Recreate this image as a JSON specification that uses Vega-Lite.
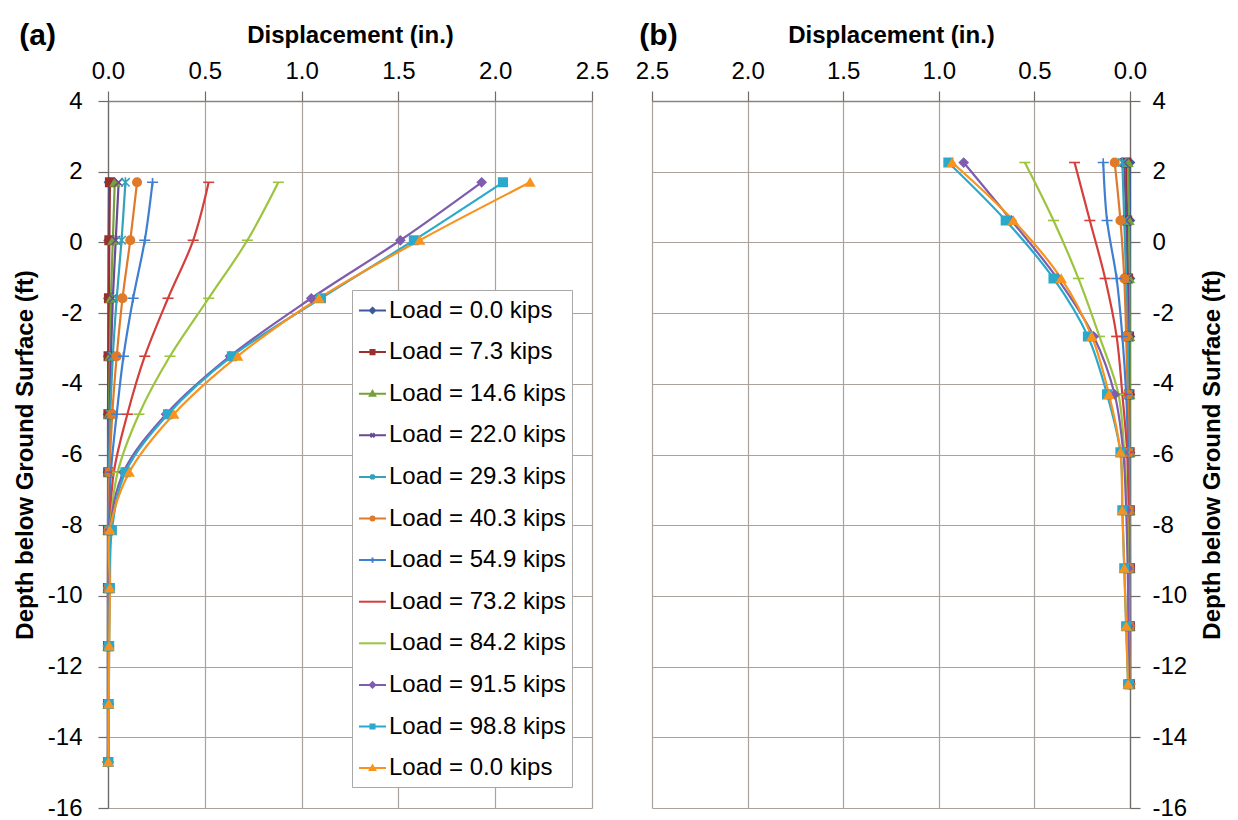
{
  "$schema": "https://vega.github.io/schema/vega-lite/v6.json",
  "background": "white",
  "padding": {"left": 13, "top": 21, "right": 5, "bottom": 5},
  "config": {
    "font": "Liberation Sans",
    "view": {"stroke": null},
    "axis": {
      "labelFont": "Liberation Sans", "titleFont": "Liberation Sans",
      "labelColor": "black", "titleColor": "black",
      "labelFontSize": 24, "titleFontSize": 24, "titleFontWeight": "bold",
      "gridColor": "#aaa29d", "gridWidth": 1.2,
      "tickColor": "#6d6a68", "domainColor": "#6d6a68", "tickSize": 10, "tickWidth": 1.2, "domainWidth": 1.3,
      "labelFlush": false, "labelOverlap": false
    },
    "title": {"font": "Liberation Sans", "fontSize": 30, "fontWeight": "bold", "color": "black"}
  },
  "datasets": {
    "a": [
      {"series":1,"depth":1.7,"disp":0.005},{"series":1,"depth":0.06,"disp":0.003},{"series":1,"depth":-1.58,"disp":0.002},{"series":1,"depth":-3.22,"disp":0.001},{"series":1,"depth":-4.86,"disp":0},{"series":1,"depth":-6.5,"disp":0},{"series":1,"depth":-8.14,"disp":0},{"series":1,"depth":-9.78,"disp":0},{"series":1,"depth":-11.42,"disp":0},{"series":1,"depth":-13.06,"disp":0},{"series":1,"depth":-14.7,"disp":0},
      {"series":2,"depth":1.7,"disp":0.01},{"series":2,"depth":0.06,"disp":0.007},{"series":2,"depth":-1.58,"disp":0.005},{"series":2,"depth":-3.22,"disp":0.003},{"series":2,"depth":-4.86,"disp":0.002},{"series":2,"depth":-6.5,"disp":0.001},{"series":2,"depth":-8.14,"disp":0},{"series":2,"depth":-9.78,"disp":0},{"series":2,"depth":-11.42,"disp":0},{"series":2,"depth":-13.06,"disp":0},{"series":2,"depth":-14.7,"disp":0},
      {"series":3,"depth":1.7,"disp":0.035},{"series":3,"depth":0.06,"disp":0.025},{"series":3,"depth":-1.58,"disp":0.015},{"series":3,"depth":-3.22,"disp":0.01},{"series":3,"depth":-4.86,"disp":0.005},{"series":3,"depth":-6.5,"disp":0.002},{"series":3,"depth":-8.14,"disp":0},{"series":3,"depth":-9.78,"disp":0},{"series":3,"depth":-11.42,"disp":0},{"series":3,"depth":-13.06,"disp":0},{"series":3,"depth":-14.7,"disp":0},
      {"series":4,"depth":1.7,"disp":0.055},{"series":4,"depth":0.06,"disp":0.04},{"series":4,"depth":-1.58,"disp":0.025},{"series":4,"depth":-3.22,"disp":0.015},{"series":4,"depth":-4.86,"disp":0.008},{"series":4,"depth":-6.5,"disp":0.003},{"series":4,"depth":-8.14,"disp":0.001},{"series":4,"depth":-9.78,"disp":0},{"series":4,"depth":-11.42,"disp":0},{"series":4,"depth":-13.06,"disp":0},{"series":4,"depth":-14.7,"disp":0},
      {"series":5,"depth":1.7,"disp":0.09},{"series":5,"depth":0.06,"disp":0.07},{"series":5,"depth":-1.58,"disp":0.045},{"series":5,"depth":-3.22,"disp":0.025},{"series":5,"depth":-4.86,"disp":0.012},{"series":5,"depth":-6.5,"disp":0.005},{"series":5,"depth":-8.14,"disp":0.002},{"series":5,"depth":-9.78,"disp":0.001},{"series":5,"depth":-11.42,"disp":0},{"series":5,"depth":-13.06,"disp":0},{"series":5,"depth":-14.7,"disp":0},
      {"series":6,"depth":1.7,"disp":0.15},{"series":6,"depth":0.06,"disp":0.115},{"series":6,"depth":-1.58,"disp":0.075},{"series":6,"depth":-3.22,"disp":0.045},{"series":6,"depth":-4.86,"disp":0.022},{"series":6,"depth":-6.5,"disp":0.008},{"series":6,"depth":-8.14,"disp":0.003},{"series":6,"depth":-9.78,"disp":0.002},{"series":6,"depth":-11.42,"disp":0.001},{"series":6,"depth":-13.06,"disp":0.001},{"series":6,"depth":-14.7,"disp":0},
      {"series":7,"depth":1.7,"disp":0.23},{"series":7,"depth":0.06,"disp":0.19},{"series":7,"depth":-1.58,"disp":0.13},{"series":7,"depth":-3.22,"disp":0.08},{"series":7,"depth":-4.86,"disp":0.045},{"series":7,"depth":-6.5,"disp":0.015},{"series":7,"depth":-8.14,"disp":0.005},{"series":7,"depth":-9.78,"disp":0.003},{"series":7,"depth":-11.42,"disp":0.002},{"series":7,"depth":-13.06,"disp":0.001},{"series":7,"depth":-14.7,"disp":0},
      {"series":8,"depth":1.7,"disp":0.52},{"series":8,"depth":0.06,"disp":0.44},{"series":8,"depth":-1.58,"disp":0.31},{"series":8,"depth":-3.22,"disp":0.19},{"series":8,"depth":-4.86,"disp":0.1},{"series":8,"depth":-6.5,"disp":0.03},{"series":8,"depth":-8.14,"disp":0.008},{"series":8,"depth":-9.78,"disp":0.004},{"series":8,"depth":-11.42,"disp":0.003},{"series":8,"depth":-13.06,"disp":0.002},{"series":8,"depth":-14.7,"disp":0},
      {"series":9,"depth":1.7,"disp":0.88},{"series":9,"depth":0.06,"disp":0.72},{"series":9,"depth":-1.58,"disp":0.52},{"series":9,"depth":-3.22,"disp":0.32},{"series":9,"depth":-4.86,"disp":0.16},{"series":9,"depth":-6.5,"disp":0.05},{"series":9,"depth":-8.14,"disp":0.01},{"series":9,"depth":-9.78,"disp":0.005},{"series":9,"depth":-11.42,"disp":0.003},{"series":9,"depth":-13.06,"disp":0.002},{"series":9,"depth":-14.7,"disp":0},
      {"series":10,"depth":1.7,"disp":1.93},{"series":10,"depth":0.06,"disp":1.51},{"series":10,"depth":-1.58,"disp":1.05},{"series":10,"depth":-3.22,"disp":0.63},{"series":10,"depth":-4.86,"disp":0.3},{"series":10,"depth":-6.5,"disp":0.08},{"series":10,"depth":-8.14,"disp":0.01},{"series":10,"depth":-9.78,"disp":0.006},{"series":10,"depth":-11.42,"disp":0.004},{"series":10,"depth":-13.06,"disp":0.003},{"series":10,"depth":-14.7,"disp":0},
      {"series":11,"depth":1.7,"disp":2.04},{"series":11,"depth":0.06,"disp":1.58},{"series":11,"depth":-1.58,"disp":1.1},{"series":11,"depth":-3.22,"disp":0.64},{"series":11,"depth":-4.86,"disp":0.31},{"series":11,"depth":-6.5,"disp":0.09},{"series":11,"depth":-8.14,"disp":0.02},{"series":11,"depth":-9.78,"disp":0.01},{"series":11,"depth":-11.42,"disp":0.006},{"series":11,"depth":-13.06,"disp":0.004},{"series":11,"depth":-14.7,"disp":0.002},
      {"series":12,"depth":1.7,"disp":2.18},{"series":12,"depth":0.06,"disp":1.61},{"series":12,"depth":-1.58,"disp":1.09},{"series":12,"depth":-3.22,"disp":0.67},{"series":12,"depth":-4.86,"disp":0.34},{"series":12,"depth":-6.5,"disp":0.11},{"series":12,"depth":-8.14,"disp":0.01},{"series":12,"depth":-9.78,"disp":0.01},{"series":12,"depth":-11.42,"disp":0.006},{"series":12,"depth":-13.06,"disp":0.004},{"series":12,"depth":-14.7,"disp":0.002}
    ],
    "b": [
      {"series":1,"depth":2.26,"disp":0},{"series":1,"depth":0.62,"disp":0},{"series":1,"depth":-1.02,"disp":0},{"series":1,"depth":-2.66,"disp":0},{"series":1,"depth":-4.3,"disp":0},{"series":1,"depth":-5.94,"disp":0},{"series":1,"depth":-7.58,"disp":0},{"series":1,"depth":-9.22,"disp":0},{"series":1,"depth":-10.86,"disp":0},{"series":1,"depth":-12.5,"disp":0},
      {"series":2,"depth":2.26,"disp":0.02},{"series":2,"depth":0.62,"disp":0.015},{"series":2,"depth":-1.02,"disp":0.01},{"series":2,"depth":-2.66,"disp":0.005},{"series":2,"depth":-4.3,"disp":0.003},{"series":2,"depth":-5.94,"disp":0.002},{"series":2,"depth":-7.58,"disp":0.001},{"series":2,"depth":-9.22,"disp":0},{"series":2,"depth":-10.86,"disp":0},{"series":2,"depth":-12.5,"disp":0},
      {"series":3,"depth":2.26,"disp":0.01},{"series":3,"depth":0.62,"disp":0.005},{"series":3,"depth":-1.02,"disp":0.003},{"series":3,"depth":-2.66,"disp":0.002},{"series":3,"depth":-4.3,"disp":0.001},{"series":3,"depth":-5.94,"disp":0},{"series":3,"depth":-7.58,"disp":0},{"series":3,"depth":-9.22,"disp":0},{"series":3,"depth":-10.86,"disp":0},{"series":3,"depth":-12.5,"disp":0},
      {"series":4,"depth":2.26,"disp":0.03},{"series":4,"depth":0.62,"disp":0.02},{"series":4,"depth":-1.02,"disp":0.012},{"series":4,"depth":-2.66,"disp":0.008},{"series":4,"depth":-4.3,"disp":0.005},{"series":4,"depth":-5.94,"disp":0.003},{"series":4,"depth":-7.58,"disp":0.002},{"series":4,"depth":-9.22,"disp":0.001},{"series":4,"depth":-10.86,"disp":0},{"series":4,"depth":-12.5,"disp":0},
      {"series":5,"depth":2.26,"disp":0.04},{"series":5,"depth":0.62,"disp":0.03},{"series":5,"depth":-1.02,"disp":0.02},{"series":5,"depth":-2.66,"disp":0.012},{"series":5,"depth":-4.3,"disp":0.008},{"series":5,"depth":-5.94,"disp":0.005},{"series":5,"depth":-7.58,"disp":0.003},{"series":5,"depth":-9.22,"disp":0.002},{"series":5,"depth":-10.86,"disp":0.001},{"series":5,"depth":-12.5,"disp":0},
      {"series":6,"depth":2.26,"disp":0.08},{"series":6,"depth":0.62,"disp":0.05},{"series":6,"depth":-1.02,"disp":0.03},{"series":6,"depth":-2.66,"disp":0.02},{"series":6,"depth":-4.3,"disp":0.012},{"series":6,"depth":-5.94,"disp":0.007},{"series":6,"depth":-7.58,"disp":0.004},{"series":6,"depth":-9.22,"disp":0.003},{"series":6,"depth":-10.86,"disp":0.002},{"series":6,"depth":-12.5,"disp":0.001},
      {"series":7,"depth":2.26,"disp":0.14},{"series":7,"depth":0.62,"disp":0.12},{"series":7,"depth":-1.02,"disp":0.07},{"series":7,"depth":-2.66,"disp":0.04},{"series":7,"depth":-4.3,"disp":0.02},{"series":7,"depth":-5.94,"disp":0.01},{"series":7,"depth":-7.58,"disp":0.006},{"series":7,"depth":-9.22,"disp":0.004},{"series":7,"depth":-10.86,"disp":0.002},{"series":7,"depth":-12.5,"disp":0.001},
      {"series":8,"depth":2.26,"disp":0.29},{"series":8,"depth":0.62,"disp":0.21},{"series":8,"depth":-1.02,"disp":0.13},{"series":8,"depth":-2.66,"disp":0.07},{"series":8,"depth":-4.3,"disp":0.04},{"series":8,"depth":-5.94,"disp":0.015},{"series":8,"depth":-7.58,"disp":0.01},{"series":8,"depth":-9.22,"disp":0.006},{"series":8,"depth":-10.86,"disp":0.004},{"series":8,"depth":-12.5,"disp":0.002},
      {"series":9,"depth":2.26,"disp":0.55},{"series":9,"depth":0.62,"disp":0.4},{"series":9,"depth":-1.02,"disp":0.27},{"series":9,"depth":-2.66,"disp":0.16},{"series":9,"depth":-4.3,"disp":0.06},{"series":9,"depth":-5.94,"disp":0.03},{"series":9,"depth":-7.58,"disp":0.015},{"series":9,"depth":-9.22,"disp":0.01},{"series":9,"depth":-10.86,"disp":0.006},{"series":9,"depth":-12.5,"disp":0.003},
      {"series":10,"depth":2.26,"disp":0.87},{"series":10,"depth":0.62,"disp":0.62},{"series":10,"depth":-1.02,"disp":0.38},{"series":10,"depth":-2.66,"disp":0.19},{"series":10,"depth":-4.3,"disp":0.08},{"series":10,"depth":-5.94,"disp":0.035},{"series":10,"depth":-7.58,"disp":0.02},{"series":10,"depth":-9.22,"disp":0.012},{"series":10,"depth":-10.86,"disp":0.008},{"series":10,"depth":-12.5,"disp":0.004},
      {"series":11,"depth":2.26,"disp":0.95},{"series":11,"depth":0.62,"disp":0.65},{"series":11,"depth":-1.02,"disp":0.4},{"series":11,"depth":-2.66,"disp":0.22},{"series":11,"depth":-4.3,"disp":0.12},{"series":11,"depth":-5.94,"disp":0.05},{"series":11,"depth":-7.58,"disp":0.04},{"series":11,"depth":-9.22,"disp":0.03},{"series":11,"depth":-10.86,"disp":0.02},{"series":11,"depth":-12.5,"disp":0.01},
      {"series":12,"depth":2.26,"disp":0.93},{"series":12,"depth":0.62,"disp":0.61},{"series":12,"depth":-1.02,"disp":0.36},{"series":12,"depth":-2.66,"disp":0.2},{"series":12,"depth":-4.3,"disp":0.11},{"series":12,"depth":-5.94,"disp":0.05},{"series":12,"depth":-7.58,"disp":0.04},{"series":12,"depth":-9.22,"disp":0.03},{"series":12,"depth":-10.86,"disp":0.02},{"series":12,"depth":-12.5,"disp":0.01}
    ]
  },
  "bounds": "flush",
  "spacing": 60,
  "hconcat": [
    {
      "width": 484, "height": 707,
      "title": {"text": "(a)", "anchor": "start", "frame": "bounds", "offset": -28, "dx": 6},
      "data": {"name": "a"},
      "resolve": {"scale": {"shape": "independent", "fill": "independent", "stroke": "independent"}},
      "encoding": {
        "x": {"field": "disp", "type": "quantitative", "scale": {"domain": [0, 2.5], "nice": false, "zero": false},
              "axis": {"orient": "top", "values": [0, 0.5, 1, 1.5, 2, 2.5], "format": ".1f", "title": "Displacement (in.)", "labelPadding": 8, "titlePadding": 12, "grid": true, "domainColor": "#8a8480"}},
        "y": {"field": "depth", "type": "quantitative", "scale": {"domain": [-16, 4], "nice": false, "zero": false},
              "axis": {"orient": "left", "values": [-16, -14, -12, -10, -8, -6, -4, -2, 0, 2, 4], "labelExpr": "toString(datum.value)", "title": "Depth below Ground Surface (ft)", "labelPadding": 16, "titlePadding": 10, "grid": true}},
        "order": {"field": "depth", "sort": "descending"}
      },
      "layer": [
        {
          "mark": {"type": "line", "strokeWidth": 2.2, "interpolate": "catmull-rom"},
          "encoding": {"color": {"field": "series", "type": "nominal", "legend": null,
            "scale": {"domain": [1,2,3,4,5,6,7,8,9,10,11,12], "range": ["#3c5a9a","#9a2f2c","#76a03c","#6a4a93","#34a2b8","#e07a2a","#3f7fd0","#d3403c","#9cc43e","#7e5cae","#2ba9cc","#f7931e"]}}}
        },
        {
          "mark": {"type": "point", "filled": true, "opacity": 1, "size": 72, "strokeWidth": 1.6},
          "encoding": {
            "color": {"field": "series", "type": "nominal", "legend": null},
            "stroke": {"field": "series", "type": "nominal", "legend": null,
              "scale": {"domain": [1,2,3,4,5,6,7,8,9,10,11,12], "range": ["#3c5a9a","#9a2f2c","#76a03c","#6a4a93","#34a2b8","#e07a2a","#3f7fd0","#d3403c","#9cc43e","#7e5cae","#2ba9cc","#f7931e"]}},
            "shape": {"field": "series", "type": "nominal", "legend": null,
              "scale": {"domain": [1,2,3,4,5,6,7,8,9,10,11,12], "range": ["diamond","square","triangle-up","M-1,-1L1,1M-1,1L1,-1","M-1,-1L1,1M-1,1L1,-1M0,-1.2L0,1.2","circle","M-1.3,0L1.3,0M0,-1L0,1","M-1.3,0L1.3,0","M-1.3,0L1.3,0","diamond","square","triangle-up"]}}
          }
        },
        {
          "transform": [{"filter": "datum.depth > 100"}],
          "mark": {"type": "point", "filled": true, "opacity": 1},
          "encoding": {
            "fill": {"field": "series", "type": "nominal",
              "scale": {"domain": [1,2,3,4,5,6,7,8,9,10,11,12], "range": ["#3c5a9a","#9a2f2c","#76a03c","#6a4a93","#34a2b8","#e07a2a","#3f7fd0","#d3403c","#9cc43e","#7e5cae","#2ba9cc","#f7931e"]},
              "legend": {"title": null, "orient": "none", "legendX": 244, "legendY": 189, "labelExpr": "['Load = 0.0 kips','Load = 7.3 kips','Load = 14.6 kips','Load = 22.0 kips','Load = 29.3 kips','Load = 40.3 kips','Load = 54.9 kips','Load = 73.2 kips','Load = 84.2 kips','Load = 91.5 kips','Load = 98.8 kips','Load = 0.0 kips'][datum.value - 1]", "symbolSize": 729, "symbolStrokeWidth": 2, "symbolOpacity": 1, "labelFont": "Liberation Sans", "labelFontSize": 24, "labelColor": "black", "labelLimit": 0, "fillColor": "white", "strokeColor": "#a8a8a8", "padding": 6, "rowPadding": 14.6, "labelOffset": 2}},
            "stroke": {"field": "series", "type": "nominal",
              "scale": {"domain": [1,2,3,4,5,6,7,8,9,10,11,12], "range": ["#3c5a9a","#9a2f2c","#76a03c","#6a4a93","#34a2b8","#e07a2a","#3f7fd0","#d3403c","#9cc43e","#7e5cae","#2ba9cc","#f7931e"]},
              "legend": {"title": null, "orient": "none", "legendX": 244, "legendY": 189, "labelExpr": "['Load = 0.0 kips','Load = 7.3 kips','Load = 14.6 kips','Load = 22.0 kips','Load = 29.3 kips','Load = 40.3 kips','Load = 54.9 kips','Load = 73.2 kips','Load = 84.2 kips','Load = 91.5 kips','Load = 98.8 kips','Load = 0.0 kips'][datum.value - 1]", "symbolSize": 729, "symbolStrokeWidth": 2, "symbolOpacity": 1, "labelFont": "Liberation Sans", "labelFontSize": 24, "labelColor": "black", "labelLimit": 0, "fillColor": "white", "strokeColor": "#a8a8a8", "padding": 6, "rowPadding": 14.6, "labelOffset": 2}},
            "shape": {"field": "series", "type": "nominal",
              "scale": {"domain": [1,2,3,4,5,6,7,8,9,10,11,12], "range": [
                "M-1,0L1,0M0,-0.2L0.2,0L0,0.2L-0.2,0Z",
                "M-1,0L1,0M-0.15,-0.15L0.15,-0.15L0.15,0.15L-0.15,0.15Z",
                "M-1,0L1,0M0,-0.2L0.2,0.15L-0.2,0.15Z",
                "M-1,0L1,0M-0.15,-0.15L0.15,0.15M-0.15,0.15L0.15,-0.15",
                "M-1,0L1,0M-0.15,-0.15L0.15,0.15M-0.15,0.15L0.15,-0.15M0,-0.2L0,0.2",
                "M-1,0L1,0M0.15,0A0.15,0.15 0 1,1 -0.15,0A0.15,0.15 0 1,1 0.15,0Z",
                "M-1,0L1,0M0,-0.2L0,0.2",
                "M-1,0L1,0",
                "M-1,0L1,0",
                "M-1,0L1,0M0,-0.2L0.2,0L0,0.2L-0.2,0Z",
                "M-1,0L1,0M-0.15,-0.15L0.15,-0.15L0.15,0.15L-0.15,0.15Z",
                "M-1,0L1,0M0,-0.2L0.2,0.15L-0.2,0.15Z"]},
              "legend": {"title": null, "orient": "none", "legendX": 244, "legendY": 189, "labelExpr": "['Load = 0.0 kips','Load = 7.3 kips','Load = 14.6 kips','Load = 22.0 kips','Load = 29.3 kips','Load = 40.3 kips','Load = 54.9 kips','Load = 73.2 kips','Load = 84.2 kips','Load = 91.5 kips','Load = 98.8 kips','Load = 0.0 kips'][datum.value - 1]", "symbolSize": 729, "symbolStrokeWidth": 2, "symbolOpacity": 1, "labelFont": "Liberation Sans", "labelFontSize": 24, "labelColor": "black", "labelLimit": 0, "fillColor": "white", "strokeColor": "#a8a8a8", "padding": 6, "rowPadding": 14.6, "labelOffset": 2}}
          }
        }
      ]
    },
    {
      "width": 478, "height": 707,
      "title": {"text": "(b)", "anchor": "start", "frame": "bounds", "offset": -28, "dx": 4},
      "data": {"name": "b"},
      "resolve": {"scale": {"shape": "independent", "stroke": "independent"}},
      "encoding": {
        "x": {"field": "disp", "type": "quantitative", "scale": {"domain": [0, 2.5], "nice": false, "zero": false, "reverse": true},
              "axis": {"orient": "top", "values": [0, 0.5, 1, 1.5, 2, 2.5], "format": ".1f", "title": "Displacement (in.)", "labelPadding": 8, "titlePadding": 12, "grid": true, "domainColor": "#8a8480"}},
        "y": {"field": "depth", "type": "quantitative", "scale": {"domain": [-16, 4], "nice": false, "zero": false},
              "axis": {"orient": "right", "values": [-16, -14, -12, -10, -8, -6, -4, -2, 0, 2, 4], "labelExpr": "toString(datum.value)", "title": "Depth below Ground Surface (ft)", "titleAngle": 270, "titleBaseline": "top", "labelPadding": 12, "titlePadding": 14, "grid": true}},
        "order": {"field": "depth", "sort": "descending"}
      },
      "layer": [
        {
          "mark": {"type": "line", "strokeWidth": 2.2, "interpolate": "catmull-rom"},
          "encoding": {"color": {"field": "series", "type": "nominal", "legend": null,
            "scale": {"domain": [1,2,3,4,5,6,7,8,9,10,11,12], "range": ["#3c5a9a","#9a2f2c","#76a03c","#6a4a93","#34a2b8","#e07a2a","#3f7fd0","#d3403c","#9cc43e","#7e5cae","#2ba9cc","#f7931e"]}}}
        },
        {
          "mark": {"type": "point", "filled": true, "opacity": 1, "size": 72, "strokeWidth": 1.6},
          "encoding": {
            "color": {"field": "series", "type": "nominal", "legend": null},
            "stroke": {"field": "series", "type": "nominal", "legend": null,
              "scale": {"domain": [1,2,3,4,5,6,7,8,9,10,11,12], "range": ["#3c5a9a","#9a2f2c","#76a03c","#6a4a93","#34a2b8","#e07a2a","#3f7fd0","#d3403c","#9cc43e","#7e5cae","#2ba9cc","#f7931e"]}},
            "shape": {"field": "series", "type": "nominal", "legend": null,
              "scale": {"domain": [1,2,3,4,5,6,7,8,9,10,11,12], "range": ["diamond","square","triangle-up","M-1,-1L1,1M-1,1L1,-1","M-1,-1L1,1M-1,1L1,-1M0,-1.2L0,1.2","circle","M-1.3,0L1.3,0M0,-1L0,1","M-1.3,0L1.3,0","M-1.3,0L1.3,0","diamond","square","triangle-up"]}}
          }
        }
      ]
    }
  ]
}
